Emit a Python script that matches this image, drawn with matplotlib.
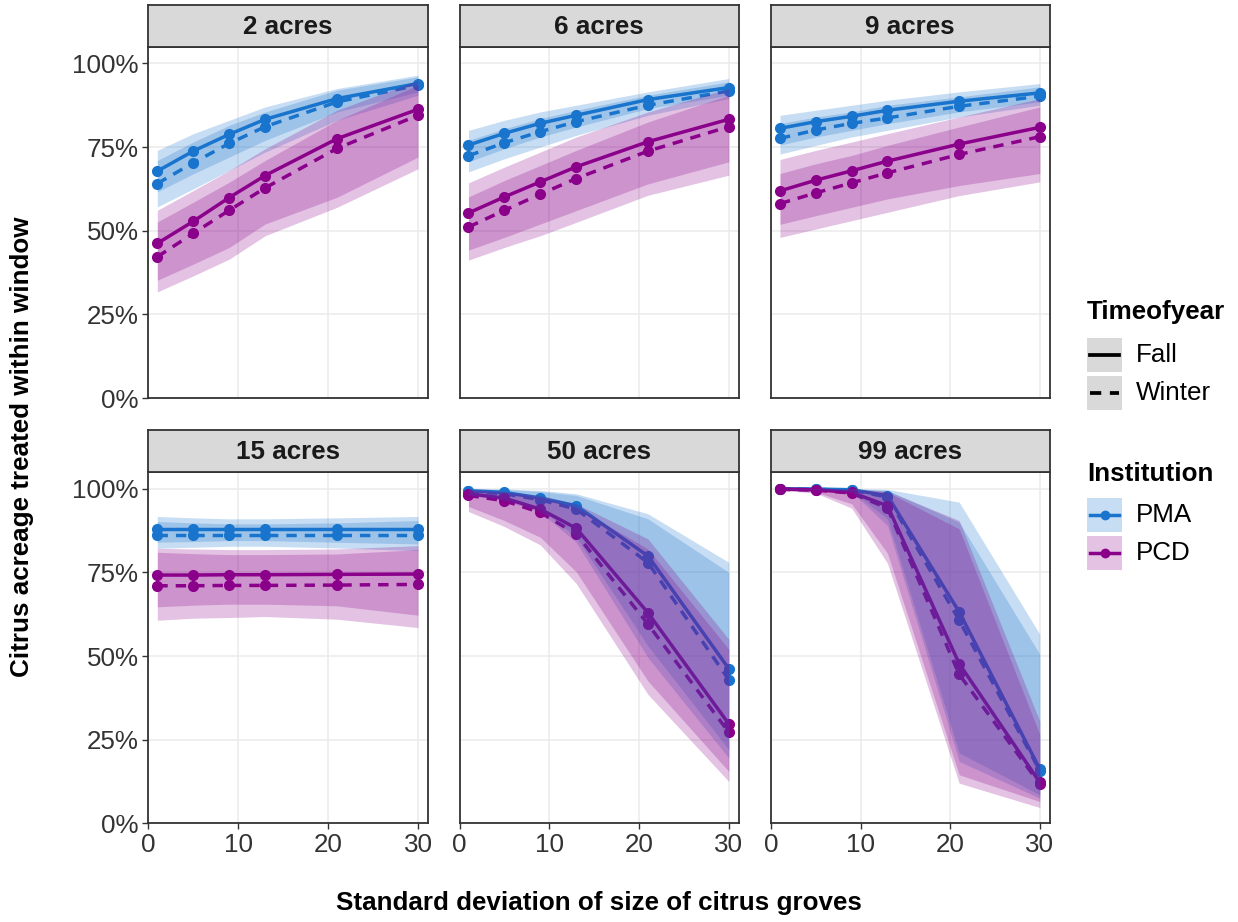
import matplotlib
matplotlib.use("Agg")
import matplotlib.pyplot as plt
from matplotlib.patches import Rectangle
from matplotlib.ticker import FuncFormatter

plt.rcParams['font.family'] = ['Liberation Sans', 'DejaVu Sans']

# ---- data -------------------------------------------------------------
sd_size = [1, 5, 9, 13, 21, 30]
panels = ["2 acres", "6 acres", "9 acres", "15 acres", "50 acres", "99 acres"]

# mean percentage of citrus acreage treated within window, one row per panel
pma_fall = [
    [67.8, 73.8, 78.8, 83.3, 89.5, 94.0],
    [75.6, 79.1, 82.1, 84.5, 89.2, 92.8],
    [80.6, 82.6, 84.2, 86.0, 88.7, 91.2],
    [88.0, 88.0, 88.0, 88.0, 88.0, 88.0],
    [99.4, 98.9, 97.2, 94.9, 79.9, 46.2],
    [100.0, 99.9, 99.7, 97.9, 63.2, 16.2],
]
pma_winter = [
    [64.1, 70.3, 76.1, 81.1, 88.5, 93.5],
    [72.4, 76.3, 79.6, 82.6, 87.5, 91.8],
    [77.6, 80.1, 82.1, 83.7, 87.2, 90.2],
    [86.2, 86.2, 86.2, 86.2, 86.2, 86.2],
    [99.2, 98.5, 96.7, 93.9, 77.9, 42.9],
    [100.0, 99.8, 99.6, 97.5, 60.7, 15.7],
]
pcd_fall = [
    [46.2, 52.8, 59.9, 66.5, 77.5, 86.3],
    [55.3, 60.1, 64.6, 69.1, 76.6, 83.3],
    [61.9, 65.1, 67.9, 70.8, 75.9, 80.9],
    [74.2, 74.2, 74.3, 74.3, 74.4, 74.5],
    [98.5, 97.2, 93.9, 88.2, 62.9, 29.7],
    [99.9, 99.7, 98.9, 94.9, 47.7, 12.2],
]
pcd_winter = [
    [42.2, 49.2, 56.1, 62.8, 74.6, 84.5],
    [51.1, 56.1, 60.9, 65.6, 73.8, 81.1],
    [58.1, 61.3, 64.3, 67.3, 72.8, 78.1],
    [71.0, 71.0, 71.1, 71.1, 71.2, 71.4],
    [98.0, 96.4, 92.9, 86.5, 59.5, 27.2],
    [99.8, 99.6, 98.7, 94.2, 44.5, 11.7],
]

# uncertainty bands (lower / upper), one row per panel
pma_fall_lo = [
    [61.6, 67.0, 72.0, 77.0, 85.5, 91.5],
    [70.6, 74.5, 78.0, 81.0, 86.5, 90.5],
    [75.6, 78.0, 80.0, 82.0, 85.5, 88.5],
    [84.0, 84.2, 84.5, 84.5, 84.0, 83.5],
    [98.3, 97.0, 94.0, 85.5, 53.0, 22.0],
    [99.9, 99.8, 99.3, 91.0, 21.0, 8.5],
]
pma_fall_hi = [
    [74.0, 79.0, 83.0, 87.0, 92.5, 96.5],
    [80.0, 83.0, 85.5, 87.5, 91.5, 95.5],
    [84.5, 86.0, 87.5, 89.0, 91.5, 94.0],
    [91.7, 91.3, 91.0, 91.0, 91.3, 91.7],
    [100.0, 99.9, 99.5, 98.5, 92.5, 78.0],
    [100.0, 100.0, 100.0, 99.8, 96.0, 56.5],
]
pma_winter_lo = [
    [57.1, 62.5, 68.0, 73.5, 83.0, 90.5],
    [67.6, 71.5, 75.0, 78.5, 84.5, 89.5],
    [72.9, 75.5, 78.0, 80.0, 84.0, 87.5],
    [82.2, 82.5, 82.8, 82.8, 82.3, 81.5],
    [98.0, 96.5, 93.0, 84.0, 49.5, 19.5],
    [99.9, 99.7, 99.0, 89.0, 18.5, 7.5],
]
pma_winter_hi = [
    [71.0, 76.5, 81.5, 85.5, 92.0, 96.0],
    [77.0, 80.5, 83.5, 86.0, 90.5, 94.5],
    [82.0, 84.0, 85.5, 87.5, 90.0, 93.0],
    [90.2, 89.8, 89.5, 89.5, 89.8, 90.5],
    [100.0, 99.8, 99.2, 98.0, 91.0, 75.0],
    [100.0, 100.0, 100.0, 99.5, 90.0, 50.5],
]
pcd_fall_lo = [
    [35.2, 40.0, 45.0, 52.0, 60.0, 72.0],
    [44.2, 48.0, 52.0, 56.0, 64.0, 70.6],
    [51.9, 54.5, 57.0, 59.5, 63.5, 67.1],
    [64.7, 65.2, 65.5, 65.5, 65.0, 62.2],
    [94.7, 90.5, 85.5, 75.2, 42.5, 15.5],
    [99.7, 99.0, 95.5, 80.7, 14.5, 6.5],
]
pcd_fall_hi = [
    [56.1, 62.0, 68.0, 74.5, 86.0, 95.0],
    [64.3, 69.0, 73.5, 78.0, 85.5, 92.5],
    [71.3, 74.0, 76.5, 79.0, 84.0, 89.5],
    [82.2, 82.0, 81.8, 81.8, 82.0, 83.0],
    [99.8, 99.3, 98.0, 95.5, 85.0, 55.0],
    [100.0, 100.0, 99.9, 99.3, 90.5, 30.5],
]
pcd_winter_lo = [
    [31.7, 36.5, 41.5, 48.5, 57.0, 68.5],
    [41.2, 45.0, 48.5, 52.5, 60.6, 66.6],
    [48.0, 50.5, 53.0, 55.5, 60.5, 64.6],
    [60.7, 61.3, 61.5, 61.8, 61.0, 58.5],
    [93.2, 88.7, 83.2, 71.7, 38.5, 12.5],
    [99.5, 98.7, 94.2, 77.7, 12.0, 4.7],
]
pcd_winter_hi = [
    [52.6, 58.5, 64.5, 71.0, 83.0, 93.5],
    [60.1, 65.0, 69.5, 74.0, 82.5, 90.5],
    [67.1, 70.0, 72.5, 75.5, 81.0, 87.0],
    [81.0, 80.6, 80.3, 80.3, 80.5, 81.8],
    [99.7, 99.0, 97.5, 94.5, 82.0, 52.0],
    [100.0, 100.0, 99.8, 99.0, 88.0, 26.5],
]

x_ticks = [0, 10, 20, 30]
y_ticks = [0, 25, 50, 75, 100]

# ---- styling ----------------------------------------------------------
PMA_COL = "#1874CD"
PCD_COL = "#8B008B"
BAND_ALPHA = 0.24
DASH = (0, (3.0, 2.3))
LW = 2.5
MS = 7.0
TXT = "#333333"
FS = 18.7

W, H = 1238, 922
fig = plt.figure(figsize=(W / 100, H / 100), dpi=100)


def fig_rect(x0, y0, x1, y1):
    """pixel box (top-left origin) -> figure fraction rect"""
    return [x0 / W, 1 - y1 / H, (x1 - x0) / W, (y1 - y0) / H]


col_x = [(148.3, 427.7), (459.5, 738.5), (771.0, 1049.5)]
row_y = [(46.7, 398.0), (472.0, 823.3)]
strip_h = 42.0

series = [
    (pma_fall, pma_fall_lo, pma_fall_hi, PMA_COL, "-"),
    (pma_winter, pma_winter_lo, pma_winter_hi, PMA_COL, DASH),
    (pcd_fall, pcd_fall_lo, pcd_fall_hi, PCD_COL, "-"),
    (pcd_winter, pcd_winter_lo, pcd_winter_hi, PCD_COL, DASH),
]

for i, name in enumerate(panels):
    r, c = divmod(i, 3)
    x0, x1 = col_x[c]
    y0, y1 = row_y[r]
    ax = fig.add_axes(fig_rect(x0, y0, x1, y1))
    ax.set_facecolor("white")
    ax.set_xlim(0, 31.08)
    ax.set_ylim(0, 1.05)
    ax.set_xticks(x_ticks)
    ax.set_yticks([v / 100 for v in y_ticks])
    ax.yaxis.set_major_formatter(FuncFormatter(lambda v, p: f"{v * 100:.0f}%"))
    ax.grid(True, color="#EBEBEB", linewidth=1.1)
    ax.set_axisbelow(True)
    for s in ax.spines.values():
        s.set_color("#333333")
        s.set_linewidth(1.3)
        s.set_zorder(5)
    ax.tick_params(length=4.3, width=1.0, color="#333333", labelsize=FS,
                   labelcolor=TXT, pad=2.5)
    if c != 0:
        ax.tick_params(axis="y", length=0, labelleft=False)
    if r == 0:
        ax.tick_params(axis="x", length=0, labelbottom=False)

    for mean, lo, hi, col, ls in series:
        yv = [v / 100 for v in mean[i]]
        ax.plot(sd_size, yv, color=col, linestyle=ls, linewidth=LW,
                marker="o", markersize=MS, zorder=1, clip_on=False)
        ax.fill_between(sd_size, [v / 100 for v in lo[i]],
                        [v / 100 for v in hi[i]], color=col,
                        alpha=BAND_ALPHA, linewidth=0, zorder=2)

    # facet strip
    sax = fig.add_axes(fig_rect(x0, y0 - strip_h, x1, y0))
    sax.set_facecolor("#D9D9D9")
    sax.set_xticks([])
    sax.set_yticks([])
    for s in sax.spines.values():
        s.set_color("#333333")
        s.set_linewidth(1.3)
    sax.text(0.5, 0.47, name, ha="center", va="center", fontsize=FS,
             fontweight="bold", color="#1A1A1A", transform=sax.transAxes)

# axis titles
fig.text(598.5 / W, 1 - 903 / H, "Standard deviation of size of citrus groves",
         ha="center", va="center", fontsize=FS, fontweight="bold", color="black")
fig.text(22 / W, 1 - 447 / H, "Citrus acreage treated within window",
         ha="center", va="center", rotation=90, fontsize=FS,
         fontweight="bold", color="black")

# ---- legends ------------------------------------------------------------
lax = fig.add_axes([0, 0, 1, 1])
lax.set_xlim(0, W)
lax.set_ylim(H, 0)
lax.axis("off")

kx0, kx1 = 1087, 1122
lax.text(1087, 312, "Timeofyear", ha="left", va="center", fontsize=FS,
         fontweight="bold", color="black")
for yc, lab, ls in [(355, "Fall", "-"), (392.7, "Winter", DASH)]:
    lax.add_patch(Rectangle((kx0, yc - 17), kx1 - kx0, 34, facecolor="#D9D9D9",
                            edgecolor="none"))
    lax.plot([kx0 + 3, kx1 - 3], [yc, yc], color="black", linestyle=ls,
             linewidth=LW + 0.2)
    lax.text(1136, yc, lab, ha="left", va="center", fontsize=FS, color="black")

lax.text(1087, 474, "Institution", ha="left", va="center", fontsize=FS,
         fontweight="bold", color="black")
for yc, lab, col in [(515, "PMA", PMA_COL), (552.5, "PCD", PCD_COL)]:
    lax.add_patch(Rectangle((kx0, yc - 17), kx1 - kx0, 34, facecolor=col,
                            alpha=BAND_ALPHA, edgecolor="none"))
    lax.plot([kx0 + 3, kx1 - 3], [yc, yc], color=col, linewidth=LW)
    lax.plot([(kx0 + kx1) / 2], [yc], marker="o", color=col, markersize=MS - 1)
    lax.text(1136, yc, lab, ha="left", va="center", fontsize=FS, color="black")

fig.savefig("out.png", dpi=100, facecolor="white")
